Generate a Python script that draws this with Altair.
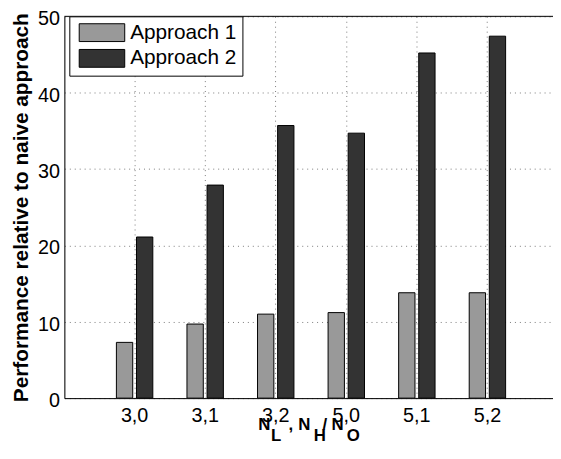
import altair as alt
import pandas as pd

categories = ["3,0", "3,1", "3,2", "5,0", "5,1", "5,2"]
approach1 = [7.3, 9.7, 11.0, 11.2, 13.8, 13.8]
approach2 = [21.1, 27.9, 35.7, 34.7, 45.2, 47.4]
series = ["Approach 1", "Approach 2"]
colors = ["#999999", "#333333"]
y_ticks = [0, 10, 20, 30, 40, 50]

rows = []
for c, v1, v2 in zip(categories, approach1, approach2):
    rows.append({"cat": c, "approach": series[0], "value": v1})
    rows.append({"cat": c, "approach": series[1], "value": v2})
df = pd.DataFrame(rows)

FONT = "Liberation Sans"
GRID = dict(grid=True, gridDash=[1, 4], gridColor="#7a7a7a", gridWidth=1)

bars = alt.Chart(df).mark_bar(stroke="black", strokeWidth=1, opacity=1).encode(
    x=alt.X(
        "cat:N",
        sort=categories,
        scale=alt.Scale(paddingInner=0, paddingOuter=0.4624, align=0.5356),
        axis=alt.Axis(
            title=None, labelAngle=0, labelFontSize=20, labelFont=FONT,
            labelColor="black", labelPadding=8, ticks=False,
            domainColor="black", domainWidth=1, **GRID,
        ),
    ),
    xOffset=alt.XOffset(
        "approach:N", sort=series,
        scale=alt.Scale(paddingInner=0.187, paddingOuter=0.85),
    ),
    y=alt.Y(
        "value:Q",
        scale=alt.Scale(domain=[0, 50], nice=False),
        axis=alt.Axis(
            values=y_ticks, title="Performance relative to naive approach",
            titleFont=FONT, titleFontSize=21, titleFontWeight="bold",
            titleColor="black", titlePadding=6,
            labelFontSize=20, labelFont=FONT, labelColor="black",
            labelPadding=5, labelOffset=2.5, ticks=False,
            domainColor="black", domainWidth=1, **GRID,
        ),
    ),
    color=alt.Color(
        "approach:N",
        sort=series,
        scale=alt.Scale(domain=series, range=colors),
        legend=alt.Legend(
            title=None, orient="none", legendX=5, legendY=0,
            symbolType="M-2.556,-1H2.556V1H-2.556Z", symbolSize=324,
            symbolOffset=16.5,
            symbolStrokeColor="black", symbolStrokeWidth=1, symbolOpacity=1,
            labelFont=FONT, labelFontSize=21, labelColor="black",
            labelOffset=18, labelExpr="datum.label + '\u2002 '",
            padding=6, rowPadding=3,
            strokeColor="black", fillColor="white",
        ),
    ),
)

top_border = alt.Chart(alt.Data(values=[{}])).mark_rule(
    color="black", strokeWidth=1
).encode(y=alt.datum(50))

# x-axis title with subscripts: N_L , N_H/N_O
ox, oy = 65, 14
title_pieces = [
    ("N", 261, 432), ("L", 274, 443.5), (",", 291.5, 432),
    ("N", 301.5, 432), ("H", 317, 443.5), ("/", 326, 432),
    ("N", 335, 432), ("O", 350.5, 443.5),
]
title_layers = [
    alt.Chart(alt.Data(values=[{}])).mark_text(
        font=FONT, fontSize=17, fontWeight="bold", color="black",
        align="left", baseline="alphabetic",
    ).encode(x=alt.value(px - ox), y=alt.value(py - oy), text=alt.value(t))
    for t, px, py in title_pieces
]

chart = alt.layer(bars, top_border, *title_layers).properties(
    width=494, height=386,
    padding={"left": 57, "top": 6, "right": 0, "bottom": 48},
    autosize="none",
).configure_view(stroke=None).configure(background="white")

chart.save("out.html", embed_options={"renderer": "svg", "actions": False})
